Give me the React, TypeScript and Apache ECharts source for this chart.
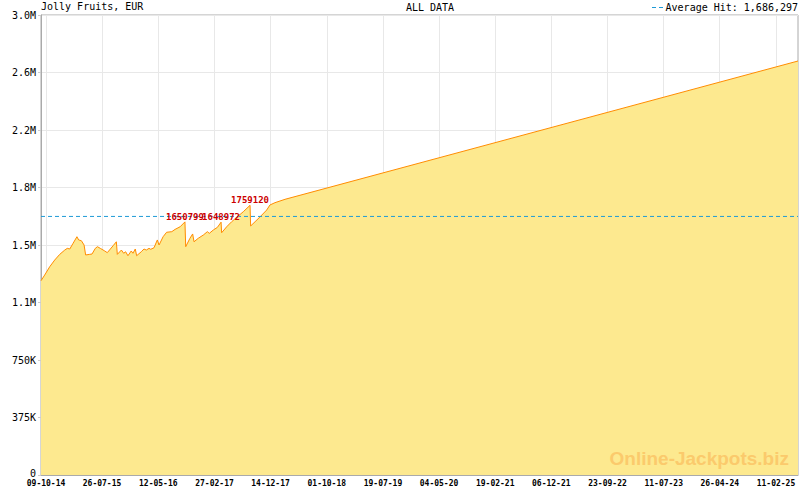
import React, { useEffect, useRef } from 'react'
import * as echarts from 'echarts'

// jackpot history
const dates = [
  '2014-09-13', '2014-10-02', '2014-10-28', '2014-11-23', '2014-12-19', '2015-01-14', '2015-01-27', '2015-02-09',
  '2015-02-26', '2015-03-18', '2015-03-27', '2015-04-10', '2015-04-24', '2015-05-02', '2015-05-23', '2015-06-04',
  '2015-06-21', '2015-07-02', '2015-07-17', '2015-08-09', '2015-08-22', '2015-09-21', '2015-10-08', '2015-10-13',
  '2015-11-03', '2015-11-15', '2015-11-25', '2015-12-07', '2015-12-24', '2016-01-02', '2016-01-14', '2016-01-21',
  '2016-02-14', '2016-02-28', '2016-03-11', '2016-03-25', '2016-04-03', '2016-04-20', '2016-05-07', '2016-05-16',
  '2016-06-06', '2016-06-24', '2016-07-21', '2016-08-07', '2016-09-02', '2016-09-27', '2016-10-01', '2016-10-23',
  '2016-11-06', '2016-11-13', '2016-12-05', '2016-12-31', '2017-01-21', '2017-01-31', '2017-02-21', '2017-03-14',
  '2017-04-02', '2017-04-05', '2017-05-01', '2017-05-27', '2017-06-25', '2017-07-26', '2017-08-30', '2017-09-02',
  '2017-09-25', '2017-10-21', '2017-11-24', '2017-12-11', '2018-01-06', '2018-02-01', '2018-02-27', '2025-06-05',
]
const values = [
  1267000, 1304000, 1358000, 1402000, 1439000, 1467000, 1478000, 1474000,
  1511000, 1554000, 1533000, 1528000, 1500000, 1435000, 1439000, 1441000,
  1478000, 1489000, 1478000, 1461000, 1450000, 1495000, 1521000, 1439000,
  1467000, 1446000, 1456000, 1430000, 1461000, 1446000, 1474000, 1430000,
  1456000, 1474000, 1467000, 1478000, 1472000, 1482000, 1533000, 1500000,
  1554000, 1583000, 1587000, 1602000, 1619000, 1650799, 1489000, 1544000,
  1572000, 1521000, 1544000, 1565000, 1587000, 1576000, 1598000, 1615000,
  1648972, 1580000, 1619000, 1652000, 1684000, 1717000, 1759120, 1624000,
  1652000, 1684000, 1728000, 1761000, 1776000, 1787000, 1798000, 2700000,
]

const peakDates = ['2016-09-27', '2017-04-02', '2017-08-30']
const peakValues = [1650799, 1648972, 1759120]

const averageHit = 1686297
const averageName = 'Average Hit: 1,686,297'

const xStart = '2014-09-13'
const xEnd = '2025-06-05'
const xTickLabels = [
  '09-10-14', '26-07-15', '12-05-16', '27-02-17', '14-12-17', '01-10-18', '19-07-19',
  '04-05-20', '19-02-21', '06-12-21', '23-09-22', '11-07-23', '26-04-24', '11-02-25',
]
const yTickLabels = ['0', '375K', '750K', '1.1M', '1.5M', '1.8M', '2.2M', '2.6M', '3.0M']
const yStep = 375000

const MONO = '"DejaVu Sans Mono", monospace'
const AVG_COLOR = '#1e9ad6'

const isoTs = (s: string) => {
  const [y, m, d] = s.split('-').map(Number)
  return Date.UTC(y, m - 1, d)
}
const labelTs = (s: string) => {
  const [d, m, y] = s.split('-').map(Number)
  return Date.UTC(2000 + y, m - 1, d)
}
const pad = (n: number) => String(n).padStart(2, '0')
const fmtDate = (v: number) => {
  const dt = new Date(v)
  return `${pad(dt.getUTCDate())}-${pad(dt.getUTCMonth() + 1)}-${pad(dt.getUTCFullYear() % 100)}`
}

const App: React.FC = () => {
  const ref = useRef<HTMLDivElement>(null)

  useEffect(() => {
    if (!ref.current) return
    const chart = echarts.init(ref.current, undefined, { renderer: 'svg' })

    const xMin = isoTs(xStart)
    const xMax = isoTs(xEnd)
    const major = xTickLabels.map(labelTs)
    // 7 sub-divisions between labelled ticks
    const minor: number[] = []
    major.forEach((m, i) => {
      const step = (i < major.length - 1 ? major[i + 1] - m : m - major[i - 1]) / 7
      for (let k = 1; k < 7; k++) {
        const v = m + k * step
        if (v <= xMax) minor.push(v)
      }
    })

    const axisGray = '#aaaaaa'

    chart.setOption({
      animation: false,
      backgroundColor: '#fff',
      grid: {
        left: 41, right: 2, top: 15, bottom: 15,
        show: true, borderColor: axisGray, borderWidth: 1,
      },
      xAxis: [
        {
          type: 'value',
          min: xMin, max: xMax,
          axisLine: { show: true, lineStyle: { color: axisGray } },
          axisTick: { show: true, inside: true, length: 5, customValues: major, lineStyle: { color: axisGray } },
          axisLabel: {
            customValues: major,
            formatter: (v: number) => fmtDate(v),
            fontFamily: MONO, fontSize: 8, fontWeight: 'bold', color: '#000', margin: 4,
          },
          splitLine: { show: true, lineStyle: { color: '#e8e8e8' } },
        },
        {
          type: 'value',
          position: 'bottom',
          min: xMin, max: xMax,
          axisLine: { show: false },
          axisTick: { show: true, inside: true, length: 3, customValues: minor, lineStyle: { color: axisGray } },
          axisLabel: { show: false },
          splitLine: { show: false },
        },
      ],
      yAxis: {
        type: 'value',
        min: 0, max: yStep * (yTickLabels.length - 1), interval: yStep,
        axisLine: { show: true, lineStyle: { color: axisGray } },
        axisTick: { show: true, length: 3, lineStyle: { color: '#cccccc' } },
        axisLabel: {
          formatter: (v: number) => (v === 0 ? '{z|0}' : yTickLabels[Math.round(v / yStep)]),
          fontFamily: MONO, fontSize: 10, color: '#000', margin: 5,
          rich: { z: { fontFamily: MONO, fontSize: 10, color: '#000', padding: [0, 0, 4, 0] } },
        },
        splitLine: { show: true, lineStyle: { color: '#e8e8e8' } },
      },
      graphic: [
        {
          type: 'text', left: 41, top: 1,
          style: { text: 'Jolly Fruits, EUR', font: `10px ${MONO}`, fill: '#000' },
        },
        {
          type: 'text', x: 430, y: 7,
          style: { text: 'ALL DATA', font: `10px ${MONO}`, fill: '#000', align: 'center', verticalAlign: 'middle' },
        },
        // legend for the average line
        {
          type: 'line',
          shape: { x1: 652, y1: 7.5, x2: 664, y2: 7.5 },
          style: { stroke: AVG_COLOR, lineWidth: 1, lineDash: [4, 3] },
        },
        {
          type: 'text', x: 798, y: 7,
          style: { text: averageName, font: `10px ${MONO}`, fill: '#000', align: 'right', verticalAlign: 'middle' },
        },
        {
          type: 'text', x: 789, y: 458, z: 10,
          style: {
            text: 'Online-Jackpots.biz', font: 'bold 19px "Liberation Sans", Arial, sans-serif',
            fill: '#fbca6c', align: 'right', verticalAlign: 'middle',
          },
        },
      ],
      series: [
        {
          type: 'line',
          name: 'Jackpot',
          data: dates.map((d, i) => [isoTs(d), values[i]]),
          symbol: 'none',
          lineStyle: { color: '#ff8c00', width: 1 },
          areaStyle: { color: '#fde98f', opacity: 1 },
          z: 2,
          markPoint: {
            symbol: 'circle',
            symbolSize: 1,
            itemStyle: { color: 'rgba(0,0,0,0)' },
            label: {
              show: true, position: 'top', distance: 0,
              color: '#cc0000', fontFamily: MONO, fontSize: 9, fontWeight: 'bold',
              formatter: (p: any) => String(p.value),
            },
            data: peakDates.map((d, i) => ({ coord: [isoTs(d), peakValues[i]], value: peakValues[i] })),
          },
        },
        {
          type: 'line',
          name: averageName,
          data: [[xMin, averageHit], [xMax, averageHit]],
          symbol: 'none',
          color: AVG_COLOR,
          lineStyle: { color: AVG_COLOR, width: 1, type: [4, 3] },
          z: 3,
        },
      ],
    })

    return () => chart.dispose()
  }, [])

  return (
    <div
      ref={ref}
      style={{ position: 'fixed', left: 0, top: 0, width: '800px', height: '490px' }}
    />
  )
}

export default App
